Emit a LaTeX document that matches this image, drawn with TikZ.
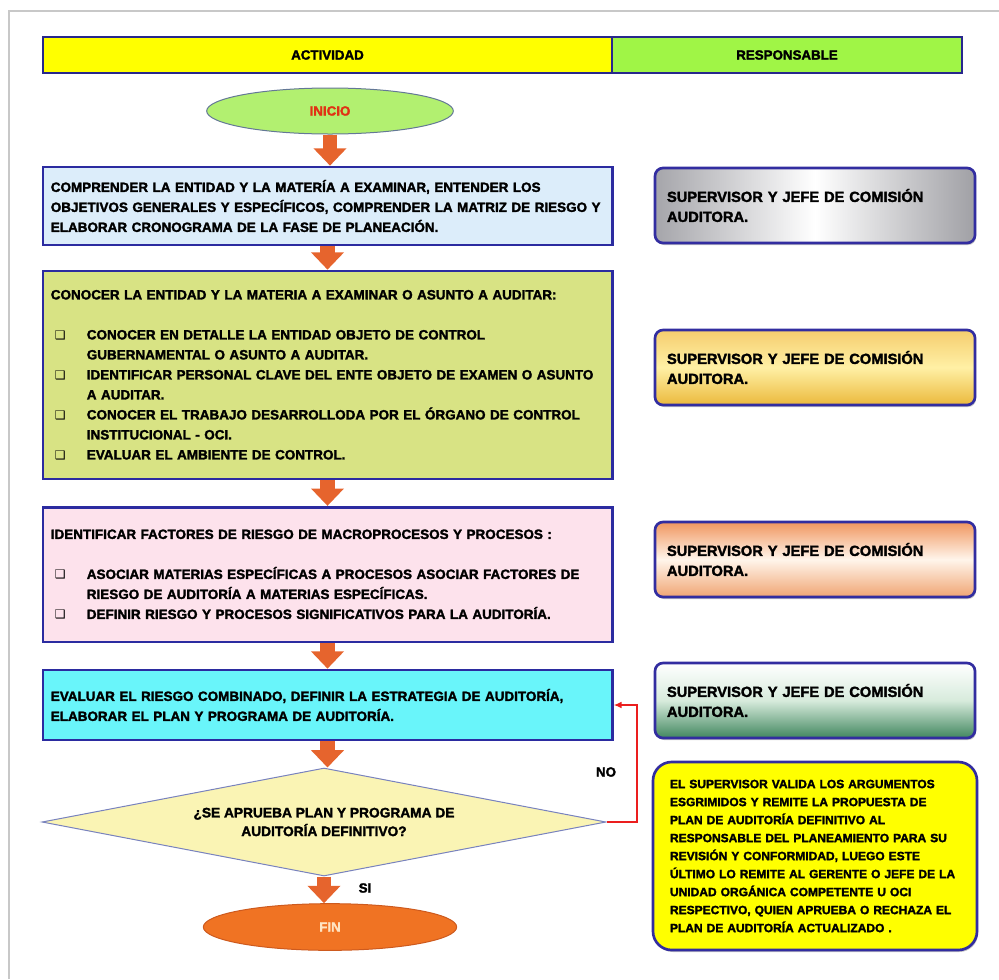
\documentclass[tikz,border=0pt]{standalone}
\usepackage{fontspec}
\setmainfont{Liberation Sans}[BoldFeatures={FakeBold=2}]
\newfontfamily\symfont{DejaVu Sans}
\usetikzlibrary{shapes.geometric,arrows.meta,shadows}

\newcommand\bul{\makebox[27pt][l]{\hspace{3pt}{\symfont\fontsize{9}{9}\selectfont ❑}}}
\newcommand\ind{\hspace*{27pt}}

\tikzset{every picture/.style={line width=0.75pt}}
\tikzset{
  hdrbox/.style={draw={rgb, 255:red, 40; green, 40; blue, 140}, line width=2pt, minimum height=27pt, font=\fontsize{10}{12}\selectfont\bfseries},
  actbox/.style={draw={rgb, 255:red, 43; green, 43; blue, 160}, line width=2pt, text width=415pt, inner xsep=6pt, align=left, font=\fontsize{10.1}{15}\selectfont\bfseries},
  resbox/.style={draw={rgb, 255:red, 50; green, 45; blue, 160}, line width=2pt, rounded corners=6pt, text width=222pt, inner xsep=9pt, minimum height=56.25pt, align=left, font=\fontsize{11}{15}\selectfont\bfseries, drop shadow={opacity=0.45, shadow xshift=0.8pt, shadow yshift=-1.5pt}},
  blockarrow/.style={draw={rgb, 255:red, 230; green, 100; blue, 45}, line width=11pt, -{Triangle[width=24pt,length=13pt]}},
  lbl/.style={font=\fontsize{10}{12}\selectfont\bfseries},
}

\begin{document}
\begin{tikzpicture}[x=0.75pt,y=0.75pt,yscale=-1,xscale=1]
\useasboundingbox (0,0) rectangle (999,979);

% Frame
\draw [color={rgb, 255:red, 200; green, 200; blue, 200 }, line width=1.5pt] (9,979) -- (9,11) -- (999,11) ;

% Header
\node [hdrbox, fill={rgb, 255:red, 255; green, 255; blue, 0 }, minimum width=426.75pt] (actividad) at (327.5,55) {ACTIVIDAD};
\node [hdrbox, fill={rgb, 255:red, 160; green, 245; blue, 70 }, minimum width=262.5pt] (responsable) at (787,55) {RESPONSABLE};

% Start
\node [ellipse, draw={rgb, 255:red, 100; green, 120; blue, 150 }, fill={rgb, 255:red, 178; green, 240; blue, 112 }, minimum width=185pt, minimum height=34.5pt, text={rgb, 255:red, 225; green, 50; blue, 20 }, font=\fontsize{10}{12}\selectfont\bfseries] (inicio) at (330,111) {INICIO};

% Activities
\node [actbox, fill={rgb, 255:red, 220; green, 237; blue, 250 }, minimum height=58.5pt] (comprender) at (327.5,206) {COMPRENDER LA  ENTIDAD Y LA MATERÍA A EXAMINAR, ENTENDER LOS\\
OBJETIVOS GENERALES Y ESPECÍFICOS, COMPRENDER LA MATRIZ DE RIESGO Y\\
ELABORAR CRONOGRAMA DE LA FASE DE PLANEACIÓN.};

\node [actbox, fill={rgb, 255:red, 216; green, 227; blue, 132 }, minimum height=156pt] (conocer) at (327.5,375) {CONOCER LA ENTIDAD Y LA MATERIA A EXAMINAR O ASUNTO A AUDITAR:\\[15pt]
\bul CONOCER EN DETALLE LA ENTIDAD OBJETO DE CONTROL\\
\ind GUBERNAMENTAL O ASUNTO A AUDITAR.\\
\bul IDENTIFICAR PERSONAL CLAVE DEL ENTE OBJETO DE EXAMEN O ASUNTO\\
\ind A AUDITAR.\\
\bul CONOCER  EL TRABAJO DESARROLLODA POR EL ÓRGANO DE CONTROL\\
\ind INSTITUCIONAL - OCI.\\
\bul EVALUAR EL AMBIENTE DE CONTROL.};

\node [actbox, fill={rgb, 255:red, 253; green, 226; blue, 236 }, minimum height=101pt] (factores) at (327.5,574.5) {IDENTIFICAR FACTORES DE RIESGO DE MACROPROCESOS Y PROCESOS :\\[15pt]
\bul ASOCIAR MATERIAS ESPECÍFICAS A PROCESOS ASOCIAR FACTORES DE\\
\ind RIESGO DE AUDITORÍA A MATERIAS ESPECÍFICAS.\\
\bul DEFINIR RIESGO Y PROCESOS SIGNIFICATIVOS PARA LA AUDITORÍA.};

\node [actbox, fill={rgb, 255:red, 105; green, 245; blue, 250 }, minimum height=52.5pt] (evaluar) at (327.5,705) {EVALUAR EL RIESGO COMBINADO, DEFINIR LA ESTRATEGIA DE AUDITORÍA,\\
ELABORAR EL PLAN Y PROGRAMA DE AUDITORÍA.};

% Decision
\node [diamond, aspect=5.2, draw={rgb, 255:red, 120; green, 130; blue, 190 }, fill={rgb, 255:red, 250; green, 244; blue, 180 }, minimum width=423pt, minimum height=81pt, inner sep=0pt, align=center, font=\fontsize{10.3}{14}\selectfont\bfseries] (aprueba) at (324,822) {¿SE APRUEBA PLAN Y PROGRAMA DE\\AUDITORÍA DEFINITIVO?};

% End
\node [ellipse, draw={rgb, 255:red, 205; green, 90; blue, 30 }, fill={rgb, 255:red, 240; green, 115; blue, 35 }, minimum width=190pt, minimum height=35pt, text={rgb, 255:red, 255; green, 228; blue, 195 }, font=\fontsize{10}{12}\selectfont\bfseries] (fin) at (330,927) {FIN};

% Responsible
\node [resbox, left color={rgb, 255:red, 165; green, 165; blue, 170 }, right color={rgb, 255:red, 160; green, 160; blue, 165 }, middle color=white] (sup1) at (815,205.5) {SUPERVISOR Y JEFE DE COMISIÓN\\AUDITORA.};
\node [resbox, top color={rgb, 255:red, 245; green, 205; blue, 110 }, bottom color={rgb, 255:red, 235; green, 185; blue, 60 }, middle color={rgb, 255:red, 255; green, 240; blue, 165 }] (sup2) at (815,367.5) {SUPERVISOR Y JEFE DE COMISIÓN\\AUDITORA.};
\node [resbox, top color={rgb, 255:red, 240; green, 150; blue, 95 }, bottom color={rgb, 255:red, 240; green, 165; blue, 115 }, middle color={rgb, 255:red, 255; green, 245; blue, 235 }] (sup3) at (815,559.5) {SUPERVISOR Y JEFE DE COMISIÓN\\AUDITORA.};
\node [resbox, top color=white, bottom color={rgb, 255:red, 65; green, 135; blue, 95 }, middle color={rgb, 255:red, 215; green, 235; blue, 220 }] (sup4) at (815,700.5) {SUPERVISOR Y JEFE DE COMISIÓN\\AUDITORA.};
\node [resbox, fill={rgb, 255:red, 255; green, 255; blue, 0 }, rounded corners=14pt, text width=217.5pt, inner xsep=12.75pt, minimum height=141pt, font=\fontsize{9}{13.5}\selectfont\bfseries] (valida) at (815,856) {EL SUPERVISOR VALIDA LOS ARGUMENTOS\\
ESGRIMIDOS Y REMITE LA PROPUESTA DE\\
PLAN DE AUDITORÍA DEFINITIVO AL\\
RESPONSABLE DEL PLANEAMIENTO PARA SU\\
REVISIÓN Y CONFORMIDAD, LUEGO ESTE\\
ÚLTIMO LO REMITE AL GERENTE O JEFE DE LA\\
UNIDAD ORGÁNICA COMPETENTE U OCI\\
RESPECTIVO, QUIEN APRUEBA O RECHAZA EL\\
PLAN DE AUDITORÍA ACTUALIZADO .};

% Flow arrows
\draw [blockarrow] (inicio.south) -- (inicio.south |- comprender.north) ;
\draw [blockarrow] (comprender.south) -- (conocer.north) ;
\draw [blockarrow] (conocer.south) -- (factores.north) ;
\draw [blockarrow] (factores.south) -- (evaluar.north) ;
\draw [blockarrow] (evaluar.south) -- (evaluar.south |- aprueba.north) ;
\draw [blockarrow] (aprueba.south) -- (aprueba.south |- fin.north) ;

% Loop back
\coordinate (vuelta) at (637,822);
\draw [color={rgb, 255:red, 235; green, 30; blue, 30 }, line width=1.5pt, -{Latex[length=6pt,width=5pt]}] (aprueba.east) -- (vuelta) |- (evaluar.east) ;

% Labels
\node [lbl] (no) at (606,772) {NO};
\node [lbl] (si) at (365,888) {SI};

\end{tikzpicture}
\end{document}
